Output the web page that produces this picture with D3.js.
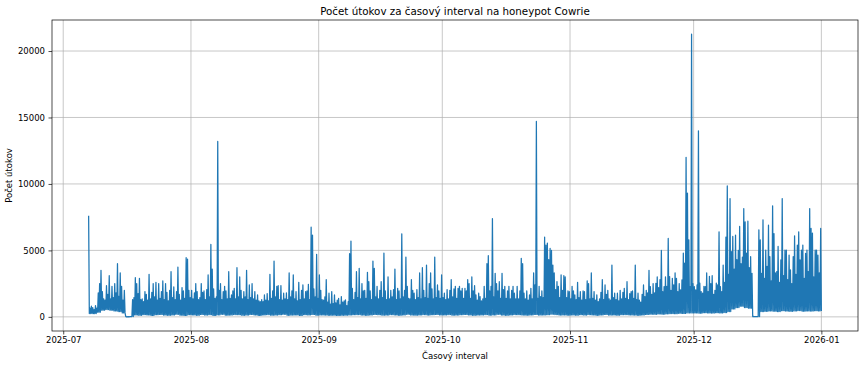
<!DOCTYPE html>
<html>
<head>
<meta charset="utf-8">
<script src="https://cdn.jsdelivr.net/npm/d3@7"></script>
<style>
  body { margin: 0; background: #fff; }
  text { font-family: "DejaVu Sans", sans-serif; fill: #000; }
</style>
</head>
<body>
<svg id="chart" width="864" height="366"></svg>
<script>
// ---- DATA (attacks per 4-hour interval; per day: three peak readings and one trough reading) ----
const chartTitle = "Počet útokov za časový interval na honeypot Cowrie";
const xLabel = "Časový interval";
const yLabel = "Počet útokov";
const firstSample = "2025-07-07T04:00:00Z";
const sampleHours = 4;

const julPeaks = [7600,650,800, 700,550,850, 650,1800,2500, 3500,1900,1350, 1250,2350,1700, 3100,1350,2300,
  1450,2500,1800, 4000,1550,3300, 2300,1250,2000, 30,10,10, 10,20,1300, 1450,2950,2500, 1750,2900,1300,
  1350,1150,1900, 1700,1250,3200, 1350,1850,2500, 1500,2600,1250, 2500,1400,1900, 2700,1300,2500,
  1850,1200,2000, 3400,1450,2250, 1300,1900,3750, 1700,1250,2200, 1950,1400,4450, 4350,2000,1450];
const julLows = [250,250,350,500,550,500,450,400,300,0,20,150,120,170,150,110,160,180,140,120,150,190,130,110,160];

const augPeaks = [2000,1350,1800, 2500,1900,1300, 1450,2500,1850, 1950,1300,2050, 3150,1500,5450, 3600,2100,1400,
  1500,13200,2000, 2500,1300,1900, 2300,1950,1350, 3400,1400,1650, 1950,2150,1350, 3700,1500,3000,
  2000,1350,1900, 1500,3500,1300, 2400,1450,2500, 1350,1900,1250, 1650,1200,1150, 1300,1150,1650,
  1250,1750,1200, 3200,1400,1950, 4200,1500,2300, 2350,1300,2350, 1250,1780,1350, 1800,1300,3300,
  1500,1950,3150, 1350,1900,1200, 2600,1300,2000, 2400,1350,1900, 1950,2450,1300, 6750,6150,2100,
  1500,4700,1400];
const augLows = [150,120,180,140,160,110,150,190,130,140,170,160,120,140,180,150,110,150,170,130,140,160,190,120,140,150,110,160,150,180,130];

const sepPeaks = [3150,2000,1300, 1250,1500,2800, 1100,1780,950, 1900,1000,1650, 1050,1250,1400, 900,1530,1100,
  1200,1280,850, 1150,4750,5700, 2150,1300,1850, 3400,1450,3650, 1350,2500,1950, 2000,1400,3350,
  2650,1950,1300, 4200,3650,1500, 2300,1350,2000, 2650,1450,4800, 1950,1300,3000, 1350,2000,1500,
  2050,3600,1300, 2150,1950,1350, 6250,1500,2000, 4500,2300,1400, 1350,2800,2000, 1780,1300,2050,
  1450,3300,1350, 3700,2000,1450, 3900,1400,2500, 3300,2100,1350, 4500,1450,2400, 1950,1400,3150];
const sepLows = [150,140,120,130,110,120,130,150,160,170,140,120,150,180,160,130,140,170,150,120,150,190,140,130,150,170,140,160,180,150];

const octPeaks = [1450,1780,1300, 2050,1350,2000, 2800,1500,2100, 2300,1400,2150, 2300,1950,2150, 1400,2150,1950,
  2800,2500,1400, 3000,1950,2350, 1650,1250,1780, 1530,1200,1350, 2300,1400,4000, 4600,1950,2300,
  7400,1500,3280, 2500,1950,2650, 1400,3280,2050, 2300,1400,1950, 2300,1350,2000, 2300,1780,1350,
  2300,1350,1950, 4400,4000,1780, 1350,1950,1250, 1650,2150,1350, 3300,2400,14700, 1400,2300,1530,
  1950,1450,6000, 5400,5550,4300, 5150,5000,3900, 3300,2050,2650, 2300,1450,3150, 2000,3100,3000,
  1450,1950,1900];
const octLows = [150,170,130,140,160,180,150,120,140,150,170,130,150,190,140,120,150,170,160,140,130,150,180,140,150,160,200,170,140,150,130];

const novPeaks = [1350,2300,1950, 1650,1300,2600, 1450,1900,1250, 1950,1900,1300, 2700,2500,1350, 3300,1400,1900,
  1250,1650,1150, 1350,1850,2800, 1300,2400,1700, 2000,1350,1250, 3900,1450,1780, 1300,1780,1200,
  2000,1350,1850, 2150,1400,2650, 1300,1750,1900, 1950,1400,3900, 1300,1780,1250, 1100,1700,2400,
  1530,2000,1800, 3500,2280,1700, 2500,1800,2520, 3000,2200,2800, 5000,1900,2280, 3000,2300,5900,
  3030,2000,2900, 2400,3300,2900, 1900,2500,2030, 2780,4800,4050, 12000,9300,5800, 2280,21270,2500];
const novLows = [150,130,160,140,170,150,120,150,180,140,150,130,160,170,150,140,120,150,180,200,190,220,200,230,250,240,270,260,300,300];

const decPeaks = [2280,2030,2400, 14000,2530,1900, 1780,2300,2280, 3300,1900,3050, 2500,3100,1700, 2000,2530,2400,
  6400,2280,1900, 3900,2600,6000, 9850,3200,8900, 4900,6050,3600, 6150,4300,5000, 6800,4000,4500,
  8150,7150,4800, 7200,3700,4530, 3280,30,10, 10,20,6550, 5800,3280,7300, 2900,5030,3800,
  6900,4530,2700, 8350,6270,3300, 3400,5300,2600, 4280,8900,3100, 5030,5030,2800, 4650,3530,2500,
  4530,6100,3200, 5400,6400,4280, 5030,5400,2900, 4780,5030,3400, 8150,6650,6300, 3000,5030,5030,
  4650,3300,6650];
const decLows = [300,280,320,300,290,310,300,320,400,600,700,800,700,650,20,20,400,420,450,430,400,460,440,420,450,470,430,450,440,460,450];

const xTickLabels = ["2025-07","2025-08","2025-09","2025-10","2025-11","2025-12","2026-01"];
const yTickValues = [0, 5000, 10000, 15000, 20000];

// ---- BUILD SERIES ----
const monthBlocks = [[julPeaks, julLows],[augPeaks, augLows],[sepPeaks, sepLows],[octPeaks, octLows],[novPeaks, novLows],[decPeaks, decLows]];
const values = [];
monthBlocks.forEach(([pk, lo]) => {
  lo.forEach((l, i) => { values.push(pk[3*i], l, pk[3*i+1], l, pk[3*i+2], l); });
});
const t0ms = Date.parse(firstSample);
const series = values.map((v, i) => ({ t: new Date(t0ms + i * sampleHours * 3600e3), v }));

// ---- LAYOUT ----
const svg = d3.select("#chart");
const plot = { left: 52, right: 858, top: 20, bottom: 331 };

const [tMin, tMax] = d3.extent(series, d => d.t);
const tPad = (tMax - tMin) * 0.05;
const x = d3.scaleUtc()
  .domain([new Date(+tMin - tPad), new Date(+tMax + tPad)])
  .range([plot.left, plot.right]);

const [vMin, vMax] = d3.extent(series, d => d.v);
const vPad = (vMax - vMin) * 0.05;
const y = d3.scaleLinear()
  .domain([vMin - vPad, vMax + vPad])
  .range([plot.bottom, plot.top]);

const parseMonth = d3.utcParse("%Y-%m");
const xTickDates = xTickLabels.map(parseMonth);

// grid
const grid = svg.append("g");
grid.selectAll("line.gx").data(xTickDates).join("line")
  .attr("x1", d => x(d)).attr("x2", d => x(d))
  .attr("y1", plot.top).attr("y2", plot.bottom)
  .attr("stroke", "#b0b0b0").attr("stroke-width", 0.7);
grid.selectAll("line.gy").data(yTickValues).join("line")
  .attr("x1", plot.left).attr("x2", plot.right)
  .attr("y1", d => y(d)).attr("y2", d => y(d))
  .attr("stroke", "#b0b0b0").attr("stroke-width", 0.7);

// data line
svg.append("defs").append("clipPath").attr("id", "clip")
  .append("rect").attr("x", plot.left).attr("y", plot.top)
  .attr("width", plot.right - plot.left).attr("height", plot.bottom - plot.top);

svg.append("path")
  .datum(series)
  .attr("clip-path", "url(#clip)")
  .attr("fill", "none")
  .attr("stroke", "#1f77b4")
  .attr("stroke-width", 1.25)
  .attr("stroke-linejoin", "round")
  .attr("d", d3.line().x(d => x(d.t)).y(d => y(d.v)));

// axes
const xAxis = svg.append("g")
  .attr("transform", `translate(0,${plot.bottom})`)
  .call(d3.axisBottom(x).tickValues(xTickDates).tickFormat((d, i) => xTickLabels[i])
    .tickSize(3.5).tickPadding(2.5).tickSizeOuter(0));
const yAxis = svg.append("g")
  .attr("transform", `translate(${plot.left},0)`)
  .call(d3.axisLeft(y).tickValues(yTickValues).tickFormat(d3.format("d"))
    .tickSize(3.5).tickPadding(3.5).tickSizeOuter(0));
[xAxis, yAxis].forEach(g => {
  g.select(".domain").remove();
  g.selectAll(".tick line").attr("stroke", "#000").attr("stroke-width", 0.7);
  g.selectAll(".tick text").attr("font-size", 8.5).attr("font-family", "DejaVu Sans").attr("fill", "#000");
});

// spines
svg.append("rect")
  .attr("x", plot.left).attr("y", plot.top)
  .attr("width", plot.right - plot.left).attr("height", plot.bottom - plot.top)
  .attr("fill", "none").attr("stroke", "#000").attr("stroke-width", 0.7);

// texts
svg.append("text")
  .attr("x", (plot.left + plot.right) / 2).attr("y", 15)
  .attr("text-anchor", "middle").attr("font-size", 10.3)
  .text(chartTitle);
svg.append("text")
  .attr("x", (plot.left + plot.right) / 2).attr("y", 358.5)
  .attr("text-anchor", "middle").attr("font-size", 8.5)
  .text(xLabel);
svg.append("text")
  .attr("transform", `translate(12,${(plot.top + plot.bottom) / 2}) rotate(-90)`)
  .attr("text-anchor", "middle").attr("font-size", 8.5)
  .text(yLabel);
</script>
</body>
</html>
